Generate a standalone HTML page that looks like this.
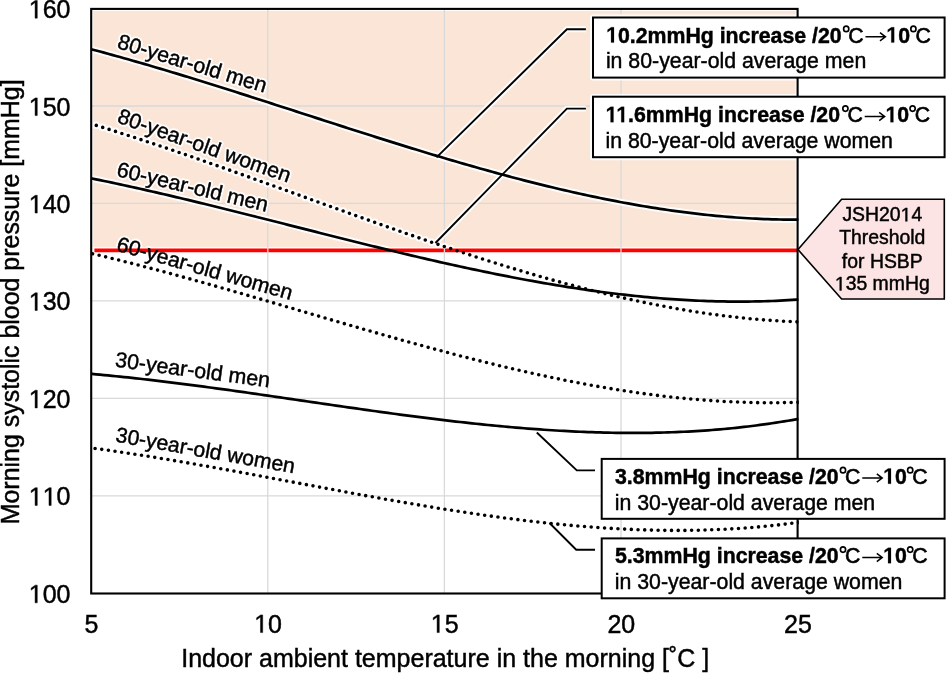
<!DOCTYPE html>
<html><head><meta charset="utf-8">
<style>
html,body{margin:0;padding:0;background:#fff;}
body{width:947px;height:674px;overflow:hidden;position:relative;}
svg{position:absolute;left:0;top:0;will-change:transform;}
text{font-family:"Liberation Sans",sans-serif;font-kerning:none;fill:#000;stroke:#000;stroke-width:0.45px;}
.b{font-weight:bold;stroke-width:0.2px;}
.h text{fill:#fff;stroke:#fff;stroke-width:4.2px;stroke-linejoin:round;}
</style></head>
<body>
<svg width="947" height="674" viewBox="0 0 947 674">
<defs><clipPath id="pc"><rect x="90.5" y="8" width="708.3" height="586"/></clipPath><clipPath id="pk"><rect x="92" y="10" width="705" height="237"/></clipPath></defs>
<rect x="93.2" y="10.9" width="702.4" height="236" fill="#FBE5D6"/>
<path d="M94.4,250.35H797.5" stroke="#FF0000" stroke-width="3.8"/>
<path d="M92,106.00H797 M92,203.45H797 M92,300.90H797 M92,398.35H797 M92,495.80H797 M267.80,10V593 M444.40,10V593 M621.00,10V593" stroke="#D9D9D9" stroke-width="1.3" fill="none"/>
<g class="h" clip-path="url(#pk)" fill="none" stroke="#fff" stroke-linejoin="round" opacity="0.92">
<path d="M91.2,49.21 L92.0,49.43 L96.0,50.49 L100.0,51.56 L104.0,52.65 L108.0,53.74 L112.0,54.84 L116.0,55.94 L120.0,57.06 L124.0,58.18 L128.0,59.31 L132.0,60.45 L136.0,61.60 L140.0,62.75 L144.0,63.91 L148.0,65.07 L152.0,66.25 L156.0,67.43 L160.0,68.61 L164.0,69.80 L168.0,71.00 L172.0,72.20 L176.0,73.41 L180.0,74.62 L184.0,75.84 L188.0,77.06 L192.0,78.29 L196.0,79.53 L200.0,80.76 L204.0,82.01 L208.0,83.25 L212.0,84.50 L216.0,85.76 L220.0,87.01 L224.0,88.28 L228.0,89.54 L232.0,90.81 L236.0,92.08 L240.0,93.35 L244.0,94.63 L248.0,95.91 L252.0,97.19 L256.0,98.47 L260.0,99.75 L264.0,101.04 L268.0,102.33 L272.0,103.62 L276.0,104.91 L280.0,106.20 L284.0,107.49 L288.0,108.79 L292.0,110.08 L296.0,111.38 L300.0,112.67 L304.0,113.97 L308.0,115.26 L312.0,116.56 L316.0,117.85 L320.0,119.14 L324.0,120.44 L328.0,121.73 L332.0,123.02 L336.0,124.31 L340.0,125.60 L344.0,126.88 L348.0,128.17 L352.0,129.45 L356.0,130.73 L360.0,132.01 L364.0,133.28 L368.0,134.56 L372.0,135.83 L376.0,137.09 L380.0,138.36 L384.0,139.62 L388.0,140.88 L392.0,142.13 L396.0,143.38 L400.0,144.63 L404.0,145.87 L408.0,147.10 L412.0,148.34 L416.0,149.56 L420.0,150.79 L424.0,152.01 L428.0,153.22 L432.0,154.43 L436.0,155.63 L440.0,156.82 L444.0,158.01 L448.0,159.20 L452.0,160.38 L456.0,161.55 L460.0,162.71 L464.0,163.87 L468.0,165.02 L472.0,166.17 L476.0,167.30 L480.0,168.43 L484.0,169.55 L488.0,170.67 L492.0,171.77 L496.0,172.87 L500.0,173.96 L504.0,175.04 L508.0,176.12 L512.0,177.18 L516.0,178.23 L520.0,179.28 L524.0,180.32 L528.0,181.34 L532.0,182.36 L536.0,183.37 L540.0,184.37 L544.0,185.35 L548.0,186.33 L552.0,187.30 L556.0,188.25 L560.0,189.20 L564.0,190.13 L568.0,191.06 L572.0,191.97 L576.0,192.87 L580.0,193.76 L584.0,194.63 L588.0,195.50 L592.0,196.35 L596.0,197.19 L600.0,198.02 L604.0,198.83 L608.0,199.63 L612.0,200.42 L616.0,201.20 L620.0,201.96 L624.0,202.71 L628.0,203.45 L632.0,204.17 L636.0,204.87 L640.0,205.57 L644.0,206.24 L648.0,206.91 L652.0,207.56 L656.0,208.19 L660.0,208.81 L664.0,209.41 L668.0,210.00 L672.0,210.57 L676.0,211.13 L680.0,211.67 L684.0,212.20 L688.0,212.71 L692.0,213.20 L696.0,213.67 L700.0,214.13 L704.0,214.57 L708.0,215.00 L712.0,215.41 L716.0,215.80 L720.0,216.17 L724.0,216.52 L728.0,216.86 L732.0,217.18 L736.0,217.48 L740.0,217.76 L744.0,218.02 L748.0,218.26 L752.0,218.49 L756.0,218.69 L760.0,218.88 L764.0,219.05 L768.0,219.20 L772.0,219.32 L776.0,219.43 L780.0,219.52 L784.0,219.58 L788.0,219.63 L792.0,219.65 L796.0,219.66 L798.5,219.65" stroke-width="6.7"/>
<path d="M91.2,178.34 L92.0,178.50 L96.0,179.31 L100.0,180.14 L104.0,180.97 L108.0,181.80 L112.0,182.65 L116.0,183.50 L120.0,184.36 L124.0,185.23 L128.0,186.10 L132.0,186.98 L136.0,187.87 L140.0,188.76 L144.0,189.66 L148.0,190.57 L152.0,191.48 L156.0,192.40 L160.0,193.32 L164.0,194.25 L168.0,195.18 L172.0,196.12 L176.0,197.07 L180.0,198.02 L184.0,198.97 L188.0,199.93 L192.0,200.89 L196.0,201.85 L200.0,202.82 L204.0,203.80 L208.0,204.77 L212.0,205.75 L216.0,206.74 L220.0,207.73 L224.0,208.72 L228.0,209.71 L232.0,210.70 L236.0,211.70 L240.0,212.70 L244.0,213.70 L248.0,214.71 L252.0,215.71 L256.0,216.72 L260.0,217.73 L264.0,218.74 L268.0,219.75 L272.0,220.77 L276.0,221.78 L280.0,222.80 L284.0,223.81 L288.0,224.83 L292.0,225.84 L296.0,226.86 L300.0,227.87 L304.0,228.89 L308.0,229.90 L312.0,230.91 L316.0,231.93 L320.0,232.94 L324.0,233.95 L328.0,234.96 L332.0,235.97 L336.0,236.98 L340.0,237.98 L344.0,238.98 L348.0,239.99 L352.0,240.98 L356.0,241.98 L360.0,242.97 L364.0,243.97 L368.0,244.95 L372.0,245.94 L376.0,246.92 L380.0,247.90 L384.0,248.87 L388.0,249.84 L392.0,250.81 L396.0,251.78 L400.0,252.73 L404.0,253.69 L408.0,254.64 L412.0,255.58 L416.0,256.52 L420.0,257.46 L424.0,258.39 L428.0,259.32 L432.0,260.24 L436.0,261.15 L440.0,262.06 L444.0,262.96 L448.0,263.85 L452.0,264.74 L456.0,265.63 L460.0,266.50 L464.0,267.37 L468.0,268.24 L472.0,269.09 L476.0,269.94 L480.0,270.78 L484.0,271.61 L488.0,272.44 L492.0,273.26 L496.0,274.06 L500.0,274.87 L504.0,275.66 L508.0,276.44 L512.0,277.22 L516.0,277.98 L520.0,278.74 L524.0,279.49 L528.0,280.23 L532.0,280.95 L536.0,281.67 L540.0,282.38 L544.0,283.08 L548.0,283.77 L552.0,284.45 L556.0,285.12 L560.0,285.77 L564.0,286.42 L568.0,287.06 L572.0,287.68 L576.0,288.29 L580.0,288.89 L584.0,289.48 L588.0,290.06 L592.0,290.63 L596.0,291.18 L600.0,291.72 L604.0,292.25 L608.0,292.76 L612.0,293.27 L616.0,293.76 L620.0,294.23 L624.0,294.70 L628.0,295.15 L632.0,295.58 L636.0,296.01 L640.0,296.41 L644.0,296.81 L648.0,297.19 L652.0,297.55 L656.0,297.91 L660.0,298.24 L664.0,298.56 L668.0,298.87 L672.0,299.16 L676.0,299.43 L680.0,299.69 L684.0,299.94 L688.0,300.17 L692.0,300.38 L696.0,300.57 L700.0,300.75 L704.0,300.92 L708.0,301.06 L712.0,301.19 L716.0,301.30 L720.0,301.40 L724.0,301.47 L728.0,301.53 L732.0,301.58 L736.0,301.60 L740.0,301.61 L744.0,301.59 L748.0,301.56 L752.0,301.51 L756.0,301.45 L760.0,301.36 L764.0,301.25 L768.0,301.13 L772.0,300.98 L776.0,300.82 L780.0,300.64 L784.0,300.43 L788.0,300.21 L792.0,299.97 L796.0,299.70 L798.5,299.53" stroke-width="6.7"/>
<path d="M96.3,125.42 L100.0,126.56 L104.0,127.80 L108.0,129.05 L112.0,130.30 L116.0,131.57 L120.0,132.84 L124.0,134.12 L128.0,135.41 L132.0,136.71 L136.0,138.01 L140.0,139.32 L144.0,140.63 L148.0,141.96 L152.0,143.29 L156.0,144.62 L160.0,145.96 L164.0,147.31 L168.0,148.66 L172.0,150.02 L176.0,151.39 L180.0,152.76 L184.0,154.13 L188.0,155.51 L192.0,156.90 L196.0,158.29 L200.0,159.68 L204.0,161.08 L208.0,162.48 L212.0,163.89 L216.0,165.30 L220.0,166.71 L224.0,168.13 L228.0,169.55 L232.0,170.97 L236.0,172.40 L240.0,173.82 L244.0,175.26 L248.0,176.69 L252.0,178.13 L256.0,179.56 L260.0,181.00 L264.0,182.45 L268.0,183.89 L272.0,185.33 L276.0,186.78 L280.0,188.23 L284.0,189.67 L288.0,191.12 L292.0,192.57 L296.0,194.02 L300.0,195.47 L304.0,196.92 L308.0,198.37 L312.0,199.82 L316.0,201.27 L320.0,202.72 L324.0,204.16 L328.0,205.61 L332.0,207.06 L336.0,208.50 L340.0,209.94 L344.0,211.38 L348.0,212.82 L352.0,214.26 L356.0,215.69 L360.0,217.13 L364.0,218.56 L368.0,219.98 L372.0,221.41 L376.0,222.83 L380.0,224.25 L384.0,225.66 L388.0,227.07 L392.0,228.48 L396.0,229.88 L400.0,231.28 L404.0,232.68 L408.0,234.07 L412.0,235.46 L416.0,236.84 L420.0,238.22 L424.0,239.59 L428.0,240.96 L432.0,242.32 L436.0,243.67 L440.0,245.03 L444.0,246.37 L448.0,247.71 L452.0,249.04 L456.0,250.37 L460.0,251.69 L464.0,253.00 L468.0,254.30 L472.0,255.60 L476.0,256.89 L480.0,258.18 L484.0,259.45 L488.0,260.72 L492.0,261.98 L496.0,263.24 L500.0,264.48 L504.0,265.72 L508.0,266.94 L512.0,268.16 L516.0,269.37 L520.0,270.57 L524.0,271.76 L528.0,272.95 L532.0,274.12 L536.0,275.28 L540.0,276.43 L544.0,277.58 L548.0,278.71 L552.0,279.83 L556.0,280.94 L560.0,282.04 L564.0,283.13 L568.0,284.21 L572.0,285.28 L576.0,286.33 L580.0,287.38 L584.0,288.41 L588.0,289.43 L592.0,290.44 L596.0,291.43 L600.0,292.42 L604.0,293.39 L608.0,294.34 L612.0,295.29 L616.0,296.22 L620.0,297.14 L624.0,298.04 L628.0,298.94 L632.0,299.81 L636.0,300.68 L640.0,301.53 L644.0,302.36 L648.0,303.18 L652.0,303.99 L656.0,304.78 L660.0,305.55 L664.0,306.31 L668.0,307.06 L672.0,307.79 L676.0,308.50 L680.0,309.20 L684.0,309.88 L688.0,310.55 L692.0,311.20 L696.0,311.83 L700.0,312.45 L704.0,313.05 L708.0,313.63 L712.0,314.20 L716.0,314.74 L720.0,315.27 L724.0,315.79 L728.0,316.28 L732.0,316.76 L736.0,317.22 L740.0,317.66 L744.0,318.08 L748.0,318.48 L752.0,318.87 L756.0,319.23 L760.0,319.58 L764.0,319.90 L768.0,320.21 L772.0,320.50 L776.0,320.76 L780.0,321.01 L784.0,321.24 L788.0,321.44 L792.0,321.63 L796.0,321.79 L798.5,321.89" stroke-width="7.6" stroke-dasharray="0 6.70" stroke-linecap="round"/>
<path d="M436.5,157.4 L566.9,29.25 H585.9" stroke-width="5.9"/>
<path d="M435.4,243 L566.9,108.6 H585.9" stroke-width="5.9"/>
<rect x="593" y="17.5" width="351.3" height="60.1" stroke-width="6.0"/>
<rect x="593" y="96.9" width="351.3" height="60.3" stroke-width="6.0"/>
<g><text transform="translate(116.20,47.70) rotate(16.95)" style="font-size:21.26px">80-year-old men</text><text transform="translate(116.20,122.00) rotate(19.50)" style="font-size:21.27px">80-year-old women</text><text transform="translate(115.80,176.00) rotate(13.35)" style="font-size:21.26px">60-year-old men</text><text transform="translate(115.60,250.40) rotate(15.85)" style="font-size:21.22px">60-year-old women</text></g>
</g>
<rect x="91.2" y="8.9" width="706.4" height="584.6" fill="none" stroke="#000" stroke-width="2.1"/>
<g fill="none" stroke="#000" stroke-linejoin="round" clip-path="url(#pc)">
<path d="M91.2,49.21 L92.0,49.43 L96.0,50.49 L100.0,51.56 L104.0,52.65 L108.0,53.74 L112.0,54.84 L116.0,55.94 L120.0,57.06 L124.0,58.18 L128.0,59.31 L132.0,60.45 L136.0,61.60 L140.0,62.75 L144.0,63.91 L148.0,65.07 L152.0,66.25 L156.0,67.43 L160.0,68.61 L164.0,69.80 L168.0,71.00 L172.0,72.20 L176.0,73.41 L180.0,74.62 L184.0,75.84 L188.0,77.06 L192.0,78.29 L196.0,79.53 L200.0,80.76 L204.0,82.01 L208.0,83.25 L212.0,84.50 L216.0,85.76 L220.0,87.01 L224.0,88.28 L228.0,89.54 L232.0,90.81 L236.0,92.08 L240.0,93.35 L244.0,94.63 L248.0,95.91 L252.0,97.19 L256.0,98.47 L260.0,99.75 L264.0,101.04 L268.0,102.33 L272.0,103.62 L276.0,104.91 L280.0,106.20 L284.0,107.49 L288.0,108.79 L292.0,110.08 L296.0,111.38 L300.0,112.67 L304.0,113.97 L308.0,115.26 L312.0,116.56 L316.0,117.85 L320.0,119.14 L324.0,120.44 L328.0,121.73 L332.0,123.02 L336.0,124.31 L340.0,125.60 L344.0,126.88 L348.0,128.17 L352.0,129.45 L356.0,130.73 L360.0,132.01 L364.0,133.28 L368.0,134.56 L372.0,135.83 L376.0,137.09 L380.0,138.36 L384.0,139.62 L388.0,140.88 L392.0,142.13 L396.0,143.38 L400.0,144.63 L404.0,145.87 L408.0,147.10 L412.0,148.34 L416.0,149.56 L420.0,150.79 L424.0,152.01 L428.0,153.22 L432.0,154.43 L436.0,155.63 L440.0,156.82 L444.0,158.01 L448.0,159.20 L452.0,160.38 L456.0,161.55 L460.0,162.71 L464.0,163.87 L468.0,165.02 L472.0,166.17 L476.0,167.30 L480.0,168.43 L484.0,169.55 L488.0,170.67 L492.0,171.77 L496.0,172.87 L500.0,173.96 L504.0,175.04 L508.0,176.12 L512.0,177.18 L516.0,178.23 L520.0,179.28 L524.0,180.32 L528.0,181.34 L532.0,182.36 L536.0,183.37 L540.0,184.37 L544.0,185.35 L548.0,186.33 L552.0,187.30 L556.0,188.25 L560.0,189.20 L564.0,190.13 L568.0,191.06 L572.0,191.97 L576.0,192.87 L580.0,193.76 L584.0,194.63 L588.0,195.50 L592.0,196.35 L596.0,197.19 L600.0,198.02 L604.0,198.83 L608.0,199.63 L612.0,200.42 L616.0,201.20 L620.0,201.96 L624.0,202.71 L628.0,203.45 L632.0,204.17 L636.0,204.87 L640.0,205.57 L644.0,206.24 L648.0,206.91 L652.0,207.56 L656.0,208.19 L660.0,208.81 L664.0,209.41 L668.0,210.00 L672.0,210.57 L676.0,211.13 L680.0,211.67 L684.0,212.20 L688.0,212.71 L692.0,213.20 L696.0,213.67 L700.0,214.13 L704.0,214.57 L708.0,215.00 L712.0,215.41 L716.0,215.80 L720.0,216.17 L724.0,216.52 L728.0,216.86 L732.0,217.18 L736.0,217.48 L740.0,217.76 L744.0,218.02 L748.0,218.26 L752.0,218.49 L756.0,218.69 L760.0,218.88 L764.0,219.05 L768.0,219.20 L772.0,219.32 L776.0,219.43 L780.0,219.52 L784.0,219.58 L788.0,219.63 L792.0,219.65 L796.0,219.66 L798.5,219.65" stroke-width="2.7"/>
<path d="M91.2,178.34 L92.0,178.50 L96.0,179.31 L100.0,180.14 L104.0,180.97 L108.0,181.80 L112.0,182.65 L116.0,183.50 L120.0,184.36 L124.0,185.23 L128.0,186.10 L132.0,186.98 L136.0,187.87 L140.0,188.76 L144.0,189.66 L148.0,190.57 L152.0,191.48 L156.0,192.40 L160.0,193.32 L164.0,194.25 L168.0,195.18 L172.0,196.12 L176.0,197.07 L180.0,198.02 L184.0,198.97 L188.0,199.93 L192.0,200.89 L196.0,201.85 L200.0,202.82 L204.0,203.80 L208.0,204.77 L212.0,205.75 L216.0,206.74 L220.0,207.73 L224.0,208.72 L228.0,209.71 L232.0,210.70 L236.0,211.70 L240.0,212.70 L244.0,213.70 L248.0,214.71 L252.0,215.71 L256.0,216.72 L260.0,217.73 L264.0,218.74 L268.0,219.75 L272.0,220.77 L276.0,221.78 L280.0,222.80 L284.0,223.81 L288.0,224.83 L292.0,225.84 L296.0,226.86 L300.0,227.87 L304.0,228.89 L308.0,229.90 L312.0,230.91 L316.0,231.93 L320.0,232.94 L324.0,233.95 L328.0,234.96 L332.0,235.97 L336.0,236.98 L340.0,237.98 L344.0,238.98 L348.0,239.99 L352.0,240.98 L356.0,241.98 L360.0,242.97 L364.0,243.97 L368.0,244.95 L372.0,245.94 L376.0,246.92 L380.0,247.90 L384.0,248.87 L388.0,249.84 L392.0,250.81 L396.0,251.78 L400.0,252.73 L404.0,253.69 L408.0,254.64 L412.0,255.58 L416.0,256.52 L420.0,257.46 L424.0,258.39 L428.0,259.32 L432.0,260.24 L436.0,261.15 L440.0,262.06 L444.0,262.96 L448.0,263.85 L452.0,264.74 L456.0,265.63 L460.0,266.50 L464.0,267.37 L468.0,268.24 L472.0,269.09 L476.0,269.94 L480.0,270.78 L484.0,271.61 L488.0,272.44 L492.0,273.26 L496.0,274.06 L500.0,274.87 L504.0,275.66 L508.0,276.44 L512.0,277.22 L516.0,277.98 L520.0,278.74 L524.0,279.49 L528.0,280.23 L532.0,280.95 L536.0,281.67 L540.0,282.38 L544.0,283.08 L548.0,283.77 L552.0,284.45 L556.0,285.12 L560.0,285.77 L564.0,286.42 L568.0,287.06 L572.0,287.68 L576.0,288.29 L580.0,288.89 L584.0,289.48 L588.0,290.06 L592.0,290.63 L596.0,291.18 L600.0,291.72 L604.0,292.25 L608.0,292.76 L612.0,293.27 L616.0,293.76 L620.0,294.23 L624.0,294.70 L628.0,295.15 L632.0,295.58 L636.0,296.01 L640.0,296.41 L644.0,296.81 L648.0,297.19 L652.0,297.55 L656.0,297.91 L660.0,298.24 L664.0,298.56 L668.0,298.87 L672.0,299.16 L676.0,299.43 L680.0,299.69 L684.0,299.94 L688.0,300.17 L692.0,300.38 L696.0,300.57 L700.0,300.75 L704.0,300.92 L708.0,301.06 L712.0,301.19 L716.0,301.30 L720.0,301.40 L724.0,301.47 L728.0,301.53 L732.0,301.58 L736.0,301.60 L740.0,301.61 L744.0,301.59 L748.0,301.56 L752.0,301.51 L756.0,301.45 L760.0,301.36 L764.0,301.25 L768.0,301.13 L772.0,300.98 L776.0,300.82 L780.0,300.64 L784.0,300.43 L788.0,300.21 L792.0,299.97 L796.0,299.70 L798.5,299.53" stroke-width="2.7"/>
<path d="M91.2,373.89 L92.0,373.96 L96.0,374.31 L100.0,374.68 L104.0,375.05 L108.0,375.43 L112.0,375.82 L116.0,376.22 L120.0,376.63 L124.0,377.04 L128.0,377.46 L132.0,377.89 L136.0,378.33 L140.0,378.77 L144.0,379.22 L148.0,379.68 L152.0,380.14 L156.0,380.61 L160.0,381.09 L164.0,381.57 L168.0,382.06 L172.0,382.55 L176.0,383.05 L180.0,383.55 L184.0,384.06 L188.0,384.58 L192.0,385.10 L196.0,385.62 L200.0,386.15 L204.0,386.68 L208.0,387.22 L212.0,387.76 L216.0,388.31 L220.0,388.85 L224.0,389.41 L228.0,389.96 L232.0,390.52 L236.0,391.08 L240.0,391.65 L244.0,392.21 L248.0,392.78 L252.0,393.35 L256.0,393.93 L260.0,394.50 L264.0,395.08 L268.0,395.66 L272.0,396.24 L276.0,396.82 L280.0,397.40 L284.0,397.99 L288.0,398.57 L292.0,399.16 L296.0,399.74 L300.0,400.33 L304.0,400.91 L308.0,401.50 L312.0,402.08 L316.0,402.67 L320.0,403.25 L324.0,403.84 L328.0,404.42 L332.0,405.00 L336.0,405.58 L340.0,406.16 L344.0,406.74 L348.0,407.31 L352.0,407.89 L356.0,408.46 L360.0,409.03 L364.0,409.59 L368.0,410.16 L372.0,410.72 L376.0,411.27 L380.0,411.83 L384.0,412.38 L388.0,412.93 L392.0,413.47 L396.0,414.01 L400.0,414.55 L404.0,415.08 L408.0,415.61 L412.0,416.13 L416.0,416.65 L420.0,417.16 L424.0,417.67 L428.0,418.18 L432.0,418.67 L436.0,419.17 L440.0,419.65 L444.0,420.13 L448.0,420.61 L452.0,421.08 L456.0,421.54 L460.0,422.00 L464.0,422.44 L468.0,422.89 L472.0,423.32 L476.0,423.75 L480.0,424.17 L484.0,424.58 L488.0,424.99 L492.0,425.38 L496.0,425.77 L500.0,426.15 L504.0,426.52 L508.0,426.89 L512.0,427.24 L516.0,427.59 L520.0,427.92 L524.0,428.25 L528.0,428.57 L532.0,428.88 L536.0,429.17 L540.0,429.46 L544.0,429.74 L548.0,430.01 L552.0,430.27 L556.0,430.51 L560.0,430.75 L564.0,430.97 L568.0,431.19 L572.0,431.39 L576.0,431.58 L580.0,431.76 L584.0,431.93 L588.0,432.08 L592.0,432.22 L596.0,432.35 L600.0,432.47 L604.0,432.58 L608.0,432.67 L612.0,432.75 L616.0,432.82 L620.0,432.87 L624.0,432.91 L628.0,432.93 L632.0,432.95 L636.0,432.94 L640.0,432.93 L644.0,432.89 L648.0,432.85 L652.0,432.79 L656.0,432.71 L660.0,432.62 L664.0,432.52 L668.0,432.40 L672.0,432.26 L676.0,432.11 L680.0,431.94 L684.0,431.75 L688.0,431.55 L692.0,431.33 L696.0,431.10 L700.0,430.85 L704.0,430.58 L708.0,430.30 L712.0,429.99 L716.0,429.67 L720.0,429.34 L724.0,428.98 L728.0,428.61 L732.0,428.22 L736.0,427.81 L740.0,427.38 L744.0,426.93 L748.0,426.47 L752.0,425.98 L756.0,425.48 L760.0,424.95 L764.0,424.41 L768.0,423.85 L772.0,423.27 L776.0,422.66 L780.0,422.04 L784.0,421.40 L788.0,420.74 L792.0,420.05 L796.0,419.35 L798.5,418.89" stroke-width="2.7"/>
<path d="M96.3,125.42 L100.0,126.56 L104.0,127.80 L108.0,129.05 L112.0,130.30 L116.0,131.57 L120.0,132.84 L124.0,134.12 L128.0,135.41 L132.0,136.71 L136.0,138.01 L140.0,139.32 L144.0,140.63 L148.0,141.96 L152.0,143.29 L156.0,144.62 L160.0,145.96 L164.0,147.31 L168.0,148.66 L172.0,150.02 L176.0,151.39 L180.0,152.76 L184.0,154.13 L188.0,155.51 L192.0,156.90 L196.0,158.29 L200.0,159.68 L204.0,161.08 L208.0,162.48 L212.0,163.89 L216.0,165.30 L220.0,166.71 L224.0,168.13 L228.0,169.55 L232.0,170.97 L236.0,172.40 L240.0,173.82 L244.0,175.26 L248.0,176.69 L252.0,178.13 L256.0,179.56 L260.0,181.00 L264.0,182.45 L268.0,183.89 L272.0,185.33 L276.0,186.78 L280.0,188.23 L284.0,189.67 L288.0,191.12 L292.0,192.57 L296.0,194.02 L300.0,195.47 L304.0,196.92 L308.0,198.37 L312.0,199.82 L316.0,201.27 L320.0,202.72 L324.0,204.16 L328.0,205.61 L332.0,207.06 L336.0,208.50 L340.0,209.94 L344.0,211.38 L348.0,212.82 L352.0,214.26 L356.0,215.69 L360.0,217.13 L364.0,218.56 L368.0,219.98 L372.0,221.41 L376.0,222.83 L380.0,224.25 L384.0,225.66 L388.0,227.07 L392.0,228.48 L396.0,229.88 L400.0,231.28 L404.0,232.68 L408.0,234.07 L412.0,235.46 L416.0,236.84 L420.0,238.22 L424.0,239.59 L428.0,240.96 L432.0,242.32 L436.0,243.67 L440.0,245.03 L444.0,246.37 L448.0,247.71 L452.0,249.04 L456.0,250.37 L460.0,251.69 L464.0,253.00 L468.0,254.30 L472.0,255.60 L476.0,256.89 L480.0,258.18 L484.0,259.45 L488.0,260.72 L492.0,261.98 L496.0,263.24 L500.0,264.48 L504.0,265.72 L508.0,266.94 L512.0,268.16 L516.0,269.37 L520.0,270.57 L524.0,271.76 L528.0,272.95 L532.0,274.12 L536.0,275.28 L540.0,276.43 L544.0,277.58 L548.0,278.71 L552.0,279.83 L556.0,280.94 L560.0,282.04 L564.0,283.13 L568.0,284.21 L572.0,285.28 L576.0,286.33 L580.0,287.38 L584.0,288.41 L588.0,289.43 L592.0,290.44 L596.0,291.43 L600.0,292.42 L604.0,293.39 L608.0,294.34 L612.0,295.29 L616.0,296.22 L620.0,297.14 L624.0,298.04 L628.0,298.94 L632.0,299.81 L636.0,300.68 L640.0,301.53 L644.0,302.36 L648.0,303.18 L652.0,303.99 L656.0,304.78 L660.0,305.55 L664.0,306.31 L668.0,307.06 L672.0,307.79 L676.0,308.50 L680.0,309.20 L684.0,309.88 L688.0,310.55 L692.0,311.20 L696.0,311.83 L700.0,312.45 L704.0,313.05 L708.0,313.63 L712.0,314.20 L716.0,314.74 L720.0,315.27 L724.0,315.79 L728.0,316.28 L732.0,316.76 L736.0,317.22 L740.0,317.66 L744.0,318.08 L748.0,318.48 L752.0,318.87 L756.0,319.23 L760.0,319.58 L764.0,319.90 L768.0,320.21 L772.0,320.50 L776.0,320.76 L780.0,321.01 L784.0,321.24 L788.0,321.44 L792.0,321.63 L796.0,321.79 L798.5,321.89" stroke-width="3.6" stroke-dasharray="0 6.70" stroke-linecap="round"/>
<path d="M92.6,253.71 L96.0,254.51 L100.0,255.47 L104.0,256.44 L108.0,257.41 L112.0,258.40 L116.0,259.39 L120.0,260.39 L124.0,261.39 L128.0,262.41 L132.0,263.43 L136.0,264.46 L140.0,265.49 L144.0,266.53 L148.0,267.58 L152.0,268.64 L156.0,269.70 L160.0,270.77 L164.0,271.84 L168.0,272.92 L172.0,274.00 L176.0,275.09 L180.0,276.19 L184.0,277.29 L188.0,278.40 L192.0,279.51 L196.0,280.62 L200.0,281.74 L204.0,282.86 L208.0,283.99 L212.0,285.12 L216.0,286.26 L220.0,287.39 L224.0,288.54 L228.0,289.68 L232.0,290.83 L236.0,291.98 L240.0,293.14 L244.0,294.29 L248.0,295.45 L252.0,296.61 L256.0,297.77 L260.0,298.94 L264.0,300.11 L268.0,301.27 L272.0,302.44 L276.0,303.61 L280.0,304.78 L284.0,305.96 L288.0,307.13 L292.0,308.30 L296.0,309.48 L300.0,310.65 L304.0,311.83 L308.0,313.00 L312.0,314.17 L316.0,315.35 L320.0,316.52 L324.0,317.69 L328.0,318.86 L332.0,320.03 L336.0,321.20 L340.0,322.36 L344.0,323.53 L348.0,324.69 L352.0,325.85 L356.0,327.01 L360.0,328.17 L364.0,329.32 L368.0,330.47 L372.0,331.62 L376.0,332.76 L380.0,333.91 L384.0,335.04 L388.0,336.18 L392.0,337.31 L396.0,338.44 L400.0,339.56 L404.0,340.68 L408.0,341.79 L412.0,342.90 L416.0,344.01 L420.0,345.11 L424.0,346.20 L428.0,347.29 L432.0,348.38 L436.0,349.46 L440.0,350.53 L444.0,351.60 L448.0,352.66 L452.0,353.71 L456.0,354.76 L460.0,355.80 L464.0,356.84 L468.0,357.87 L472.0,358.89 L476.0,359.90 L480.0,360.91 L484.0,361.90 L488.0,362.90 L492.0,363.88 L496.0,364.85 L500.0,365.82 L504.0,366.78 L508.0,367.73 L512.0,368.67 L516.0,369.60 L520.0,370.52 L524.0,371.43 L528.0,372.33 L532.0,373.23 L536.0,374.11 L540.0,374.99 L544.0,375.85 L548.0,376.70 L552.0,377.55 L556.0,378.38 L560.0,379.20 L564.0,380.01 L568.0,380.81 L572.0,381.60 L576.0,382.37 L580.0,383.14 L584.0,383.89 L588.0,384.63 L592.0,385.36 L596.0,386.07 L600.0,386.78 L604.0,387.47 L608.0,388.14 L612.0,388.81 L616.0,389.46 L620.0,390.10 L624.0,390.72 L628.0,391.33 L632.0,391.93 L636.0,392.51 L640.0,393.08 L644.0,393.64 L648.0,394.17 L652.0,394.70 L656.0,395.21 L660.0,395.70 L664.0,396.18 L668.0,396.65 L672.0,397.10 L676.0,397.53 L680.0,397.95 L684.0,398.35 L688.0,398.73 L692.0,399.10 L696.0,399.45 L700.0,399.78 L704.0,400.10 L708.0,400.40 L712.0,400.69 L716.0,400.95 L720.0,401.20 L724.0,401.43 L728.0,401.64 L732.0,401.84 L736.0,402.01 L740.0,402.17 L744.0,402.31 L748.0,402.43 L752.0,402.53 L756.0,402.61 L760.0,402.67 L764.0,402.71 L768.0,402.74 L772.0,402.74 L776.0,402.72 L780.0,402.69 L784.0,402.63 L788.0,402.55 L792.0,402.45 L796.0,402.33 L798.5,402.25" stroke-width="3.6" stroke-dasharray="0 6.70" stroke-linecap="round"/>
<path d="M95.1,448.43 L96.0,448.55 L100.0,449.10 L104.0,449.65 L108.0,450.22 L112.0,450.79 L116.0,451.37 L120.0,451.96 L124.0,452.55 L128.0,453.16 L132.0,453.77 L136.0,454.38 L140.0,455.00 L144.0,455.63 L148.0,456.27 L152.0,456.91 L156.0,457.56 L160.0,458.21 L164.0,458.87 L168.0,459.53 L172.0,460.20 L176.0,460.88 L180.0,461.56 L184.0,462.24 L188.0,462.93 L192.0,463.62 L196.0,464.32 L200.0,465.02 L204.0,465.73 L208.0,466.44 L212.0,467.15 L216.0,467.87 L220.0,468.59 L224.0,469.31 L228.0,470.04 L232.0,470.77 L236.0,471.50 L240.0,472.24 L244.0,472.97 L248.0,473.71 L252.0,474.45 L256.0,475.19 L260.0,475.94 L264.0,476.68 L268.0,477.43 L272.0,478.18 L276.0,478.93 L280.0,479.68 L284.0,480.43 L288.0,481.18 L292.0,481.93 L296.0,482.68 L300.0,483.43 L304.0,484.19 L308.0,484.94 L312.0,485.69 L316.0,486.44 L320.0,487.19 L324.0,487.93 L328.0,488.68 L332.0,489.43 L336.0,490.17 L340.0,490.91 L344.0,491.65 L348.0,492.39 L352.0,493.13 L356.0,493.86 L360.0,494.60 L364.0,495.32 L368.0,496.05 L372.0,496.77 L376.0,497.49 L380.0,498.21 L384.0,498.92 L388.0,499.63 L392.0,500.34 L396.0,501.04 L400.0,501.74 L404.0,502.43 L408.0,503.12 L412.0,503.81 L416.0,504.48 L420.0,505.16 L424.0,505.83 L428.0,506.49 L432.0,507.15 L436.0,507.80 L440.0,508.45 L444.0,509.09 L448.0,509.73 L452.0,510.36 L456.0,510.98 L460.0,511.59 L464.0,512.20 L468.0,512.81 L472.0,513.40 L476.0,513.99 L480.0,514.57 L484.0,515.14 L488.0,515.71 L492.0,516.26 L496.0,516.81 L500.0,517.35 L504.0,517.88 L508.0,518.41 L512.0,518.92 L516.0,519.43 L520.0,519.92 L524.0,520.41 L528.0,520.89 L532.0,521.36 L536.0,521.81 L540.0,522.26 L544.0,522.70 L548.0,523.13 L552.0,523.55 L556.0,523.95 L560.0,524.35 L564.0,524.73 L568.0,525.11 L572.0,525.47 L576.0,525.82 L580.0,526.16 L584.0,526.49 L588.0,526.81 L592.0,527.11 L596.0,527.40 L600.0,527.68 L604.0,527.95 L608.0,528.20 L612.0,528.45 L616.0,528.67 L620.0,528.89 L624.0,529.09 L628.0,529.28 L632.0,529.45 L636.0,529.61 L640.0,529.76 L644.0,529.89 L648.0,530.01 L652.0,530.11 L656.0,530.20 L660.0,530.27 L664.0,530.33 L668.0,530.37 L672.0,530.40 L676.0,530.41 L680.0,530.41 L684.0,530.39 L688.0,530.36 L692.0,530.30 L696.0,530.24 L700.0,530.15 L704.0,530.05 L708.0,529.93 L712.0,529.80 L716.0,529.64 L720.0,529.47 L724.0,529.28 L728.0,529.08 L732.0,528.86 L736.0,528.61 L740.0,528.36 L744.0,528.08 L748.0,527.78 L752.0,527.47 L756.0,527.13 L760.0,526.78 L764.0,526.41 L768.0,526.01 L772.0,525.60 L776.0,525.17 L780.0,524.72 L784.0,524.25 L788.0,523.76 L792.0,523.25 L796.0,522.72 L798.5,522.37" stroke-width="3.6" stroke-dasharray="0 6.70" stroke-linecap="round"/>
</g>
<text transform="translate(116.20,47.70) rotate(16.95)" style="font-size:21.26px">80-year-old men</text>
<text transform="translate(116.20,122.00) rotate(19.50)" style="font-size:21.27px">80-year-old women</text>
<text transform="translate(115.80,176.00) rotate(13.35)" style="font-size:21.26px">60-year-old men</text>
<text transform="translate(115.60,250.40) rotate(15.85)" style="font-size:21.22px">60-year-old women</text>
<text transform="translate(114.50,366.60) rotate(7.65)" style="font-size:21.42px">30-year-old men</text>
<text transform="translate(114.80,441.60) rotate(10.05)" style="font-size:21.22px">30-year-old women</text>
<g fill="none" stroke="#000" stroke-width="1.9">
<path d="M436.5,157.4 L566.9,29.25 H585.9"/>
<path d="M435.4,243 L566.9,108.6 H585.9"/>
<path d="M536.8,432.5 L576.8,470.4 H595"/>
<path d="M549.5,523 L576.2,549.7 H595"/>
</g>
<rect x="593" y="17.5" width="351.6" height="60.1" fill="#fff" stroke="#000" stroke-width="2"/>
<rect x="593" y="96.7" width="351.6" height="60.5" fill="#fff" stroke="#000" stroke-width="2"/>
<rect x="601.7" y="458.9" width="342.9" height="59.9" fill="#fff" stroke="#000" stroke-width="2"/>
<rect x="601.7" y="538.4" width="342.9" height="59.9" fill="#fff" stroke="#000" stroke-width="2"/>
<g transform="translate(0,42.60) scale(1,1.05) translate(0,-42.60)"><text x="606.10" y="42.60" style="font-size:21.3px;font-weight:bold;font-kerning:normal;"> 0.2mmHg increase /20</text><path d="M611.07,42.60 L611.07,30.43 L607.56,32.63 L607.56,30.33 L611.23,27.95 L613.99,27.95 L613.99,42.60Z" fill="#000" stroke="#000" stroke-width="0.2" stroke-linejoin="miter"/></g>
<g transform="translate(0,42.60) scale(1,1.05) translate(0,-42.60)">
<circle cx="846.20" cy="29.60" r="2.6" fill="none" stroke="#000" stroke-width="1.65"/><text x="848.30" y="42.60" style="font-size:21.3px;stroke-width:0.6px">C</text>
<path d="M865.50,37.10H884.80 M880.00,33.20 L885.40,37.10 L880.00,41.00" fill="none" stroke="#000" stroke-width="1.5" stroke-linejoin="miter"/>
<text x="886.30" y="42.60" style="font-size:21.3px;font-weight:bold;"> 0</text><path d="M891.27,42.60 L891.27,30.43 L887.76,32.63 L887.76,30.33 L891.43,27.95 L894.19,27.95 L894.19,42.60Z" fill="#000" stroke="#000" stroke-width="0.2" stroke-linejoin="miter"/>
<circle cx="913.40" cy="29.60" r="2.6" fill="none" stroke="#000" stroke-width="1.65"/><text x="915.50" y="42.60" style="font-size:21.3px;stroke-width:0.6px">C</text>
</g>
<g transform="translate(0,68.50) scale(1,1.05) translate(0,-68.50)"><text x="605.90" y="68.50" style="font-size:21.3px;font-kerning:normal;">in 80-year-old average men</text></g>
<g transform="translate(0,122.20) scale(1,1.05) translate(0,-122.20)"><text x="605.60" y="122.20" dx="0.00 -1.18 0.00 0.00 0.00 0.00 0.00 0.00 0.00 0.00 0.00 0.00 0.00 0.00 0.00 0.00 0.00 0.00 0.00 0.00 0.00" style="font-size:21.3px;font-weight:bold;font-kerning:normal;">  .6mmHg increase /20</text><path d="M610.57,122.20 L610.57,110.03 L607.06,112.23 L607.06,109.93 L610.73,107.55 L613.49,107.55 L613.49,122.20Z" fill="#000" stroke="#000" stroke-width="0.2" stroke-linejoin="miter"/><path d="M621.24,122.20 L621.24,110.03 L617.73,112.23 L617.73,109.93 L621.40,107.55 L624.16,107.55 L624.16,122.20Z" fill="#000" stroke="#000" stroke-width="0.2" stroke-linejoin="miter"/></g>
<g transform="translate(0,122.20) scale(1,1.05) translate(0,-122.20)">
<circle cx="845.40" cy="109.20" r="2.6" fill="none" stroke="#000" stroke-width="1.65"/><text x="847.50" y="122.20" style="font-size:21.3px;stroke-width:0.6px">C</text>
<path d="M864.70,116.70H884.00 M879.20,112.80 L884.60,116.70 L879.20,120.60" fill="none" stroke="#000" stroke-width="1.5" stroke-linejoin="miter"/>
<text x="885.50" y="122.20" style="font-size:21.3px;font-weight:bold;"> 0</text><path d="M890.47,122.20 L890.47,110.03 L886.96,112.23 L886.96,109.93 L890.63,107.55 L893.39,107.55 L893.39,122.20Z" fill="#000" stroke="#000" stroke-width="0.2" stroke-linejoin="miter"/>
<circle cx="912.60" cy="109.20" r="2.6" fill="none" stroke="#000" stroke-width="1.65"/><text x="914.70" y="122.20" style="font-size:21.3px;stroke-width:0.6px">C</text>
</g>
<g transform="translate(0,147.80) scale(1,1.05) translate(0,-147.80)"><text x="605.40" y="147.80" style="font-size:21.3px;font-kerning:normal;">in 80-year-old average women</text></g>
<g transform="translate(0,483.80) scale(1,1.05) translate(0,-483.80)"><text x="615.00" y="483.80" style="font-size:21.3px;font-weight:bold;font-kerning:normal;">3.8mmHg increase /20</text></g>
<g transform="translate(0,483.80) scale(1,1.05) translate(0,-483.80)">
<circle cx="843.00" cy="470.80" r="2.6" fill="none" stroke="#000" stroke-width="1.65"/><text x="845.10" y="483.80" style="font-size:21.3px;stroke-width:0.6px">C</text>
<path d="M862.30,478.30H881.60 M876.80,474.40 L882.20,478.30 L876.80,482.20" fill="none" stroke="#000" stroke-width="1.5" stroke-linejoin="miter"/>
<text x="883.10" y="483.80" style="font-size:21.3px;font-weight:bold;"> 0</text><path d="M888.07,483.80 L888.07,471.63 L884.56,473.83 L884.56,471.53 L888.23,469.15 L890.99,469.15 L890.99,483.80Z" fill="#000" stroke="#000" stroke-width="0.2" stroke-linejoin="miter"/>
<circle cx="910.20" cy="470.80" r="2.6" fill="none" stroke="#000" stroke-width="1.65"/><text x="912.30" y="483.80" style="font-size:21.3px;stroke-width:0.6px">C</text>
</g>
<g transform="translate(0,509.80) scale(1,1.05) translate(0,-509.80)"><text x="614.80" y="509.80" style="font-size:21.3px;font-kerning:normal;">in 30-year-old average men</text></g>
<g transform="translate(0,563.20) scale(1,1.05) translate(0,-563.20)"><text x="615.00" y="563.20" style="font-size:21.3px;font-weight:bold;font-kerning:normal;">5.3mmHg increase /20</text></g>
<g transform="translate(0,563.20) scale(1,1.05) translate(0,-563.20)">
<circle cx="843.00" cy="550.20" r="2.6" fill="none" stroke="#000" stroke-width="1.65"/><text x="845.10" y="563.20" style="font-size:21.3px;stroke-width:0.6px">C</text>
<path d="M862.30,557.70H881.60 M876.80,553.80 L882.20,557.70 L876.80,561.60" fill="none" stroke="#000" stroke-width="1.5" stroke-linejoin="miter"/>
<text x="883.10" y="563.20" style="font-size:21.3px;font-weight:bold;"> 0</text><path d="M888.07,563.20 L888.07,551.03 L884.56,553.23 L884.56,550.93 L888.23,548.55 L890.99,548.55 L890.99,563.20Z" fill="#000" stroke="#000" stroke-width="0.2" stroke-linejoin="miter"/>
<circle cx="910.20" cy="550.20" r="2.6" fill="none" stroke="#000" stroke-width="1.65"/><text x="912.30" y="563.20" style="font-size:21.3px;stroke-width:0.6px">C</text>
</g>
<g transform="translate(0,589.00) scale(1,1.05) translate(0,-589.00)"><text x="614.80" y="589.00" style="font-size:21.3px;font-kerning:normal;">in 30-year-old average women</text></g>
<path d="M798,249.6 L841.6,199.3 H944.3 V299 H841.6 Z" fill="#FCE4E4" stroke="#000" stroke-width="1.6" stroke-linejoin="miter"/>
<text x="842.40" y="221.30" style="font-size:19.4px;">JSH20 4</text><path d="M905.50,221.30 L905.50,209.58 L902.49,211.73 L902.49,210.12 L905.65,207.95 L907.22,207.95 L907.22,221.30Z" fill="#000" stroke="#000" stroke-width="0.45" stroke-linejoin="miter"/>
<text x="839.17" y="244.20" style="font-size:19.4px;">Threshold</text>
<text x="841.87" y="267.50" style="font-size:19.4px;">for HSBP</text>
<text x="834.86" y="290.40" style="font-size:19.4px;"> 35 mmHg</text><path d="M839.74,290.40 L839.74,278.68 L836.73,280.83 L836.73,279.22 L839.88,277.05 L841.45,277.05 L841.45,290.40Z" fill="#000" stroke="#000" stroke-width="0.45" stroke-linejoin="miter"/>
<g transform="translate(0,18.15) scale(1,1.03) translate(0,-18.15)"><text x="28.79" y="18.15" style="font-size:25px;"> 60</text><path d="M35.08,18.15 L35.08,3.05 L31.19,5.82 L31.19,3.75 L35.26,0.95 L37.28,0.95 L37.28,18.15Z" fill="#000" stroke="#000" stroke-width="0.45" stroke-linejoin="miter"/></g>
<g transform="translate(0,115.60) scale(1,1.03) translate(0,-115.60)"><text x="28.79" y="115.60" style="font-size:25px;"> 50</text><path d="M35.08,115.60 L35.08,100.50 L31.19,103.27 L31.19,101.20 L35.26,98.40 L37.28,98.40 L37.28,115.60Z" fill="#000" stroke="#000" stroke-width="0.45" stroke-linejoin="miter"/></g>
<g transform="translate(0,213.05) scale(1,1.03) translate(0,-213.05)"><text x="28.79" y="213.05" style="font-size:25px;"> 40</text><path d="M35.08,213.05 L35.08,197.95 L31.19,200.72 L31.19,198.65 L35.26,195.85 L37.28,195.85 L37.28,213.05Z" fill="#000" stroke="#000" stroke-width="0.45" stroke-linejoin="miter"/></g>
<g transform="translate(0,310.50) scale(1,1.03) translate(0,-310.50)"><text x="28.79" y="310.50" style="font-size:25px;"> 30</text><path d="M35.08,310.50 L35.08,295.40 L31.19,298.17 L31.19,296.10 L35.26,293.30 L37.28,293.30 L37.28,310.50Z" fill="#000" stroke="#000" stroke-width="0.45" stroke-linejoin="miter"/></g>
<g transform="translate(0,407.95) scale(1,1.03) translate(0,-407.95)"><text x="28.79" y="407.95" style="font-size:25px;"> 20</text><path d="M35.08,407.95 L35.08,392.85 L31.19,395.62 L31.19,393.55 L35.26,390.75 L37.28,390.75 L37.28,407.95Z" fill="#000" stroke="#000" stroke-width="0.45" stroke-linejoin="miter"/></g>
<g transform="translate(0,505.40) scale(1,1.03) translate(0,-505.40)"><text x="28.79" y="505.40" style="font-size:25px;">  0</text><path d="M35.08,505.40 L35.08,490.30 L31.19,493.07 L31.19,491.00 L35.26,488.20 L37.28,488.20 L37.28,505.40Z" fill="#000" stroke="#000" stroke-width="0.45" stroke-linejoin="miter"/><path d="M48.98,505.40 L48.98,490.30 L45.10,493.07 L45.10,491.00 L49.16,488.20 L51.19,488.20 L51.19,505.40Z" fill="#000" stroke="#000" stroke-width="0.45" stroke-linejoin="miter"/></g>
<g transform="translate(0,602.85) scale(1,1.03) translate(0,-602.85)"><text x="28.79" y="602.85" style="font-size:25px;"> 00</text><path d="M35.08,602.85 L35.08,587.75 L31.19,590.52 L31.19,588.45 L35.26,585.65 L37.28,585.65 L37.28,602.85Z" fill="#000" stroke="#000" stroke-width="0.45" stroke-linejoin="miter"/></g>
<g transform="translate(0,632.60) scale(1,1.03) translate(0,-632.60)"><text x="84.55" y="632.60" style="font-size:25px;">5</text></g>
<g transform="translate(0,632.60) scale(1,1.03) translate(0,-632.60)"><text x="254.20" y="632.60" style="font-size:25px;"> 0</text><path d="M260.48,632.60 L260.48,617.50 L256.60,620.27 L256.60,618.20 L260.67,615.40 L262.69,615.40 L262.69,632.60Z" fill="#000" stroke="#000" stroke-width="0.45" stroke-linejoin="miter"/></g>
<g transform="translate(0,632.60) scale(1,1.03) translate(0,-632.60)"><text x="430.80" y="632.60" style="font-size:25px;"> 5</text><path d="M437.08,632.60 L437.08,617.50 L433.20,620.27 L433.20,618.20 L437.27,615.40 L439.29,615.40 L439.29,632.60Z" fill="#000" stroke="#000" stroke-width="0.45" stroke-linejoin="miter"/></g>
<g transform="translate(0,632.60) scale(1,1.03) translate(0,-632.60)"><text x="607.40" y="632.60" style="font-size:25px;">20</text></g>
<g transform="translate(0,632.60) scale(1,1.03) translate(0,-632.60)"><text x="784.00" y="632.60" style="font-size:25px;">25</text></g>
<text x="181.2" y="666.6" style="font-size:25px">Indoor ambient temperature in the morning [˚C ]</text>
<text transform="translate(18.7,524.3) rotate(-90)" style="font-size:24.95px">Morning systolic blood pressure [mmHg]</text>
</svg>
</body></html>
